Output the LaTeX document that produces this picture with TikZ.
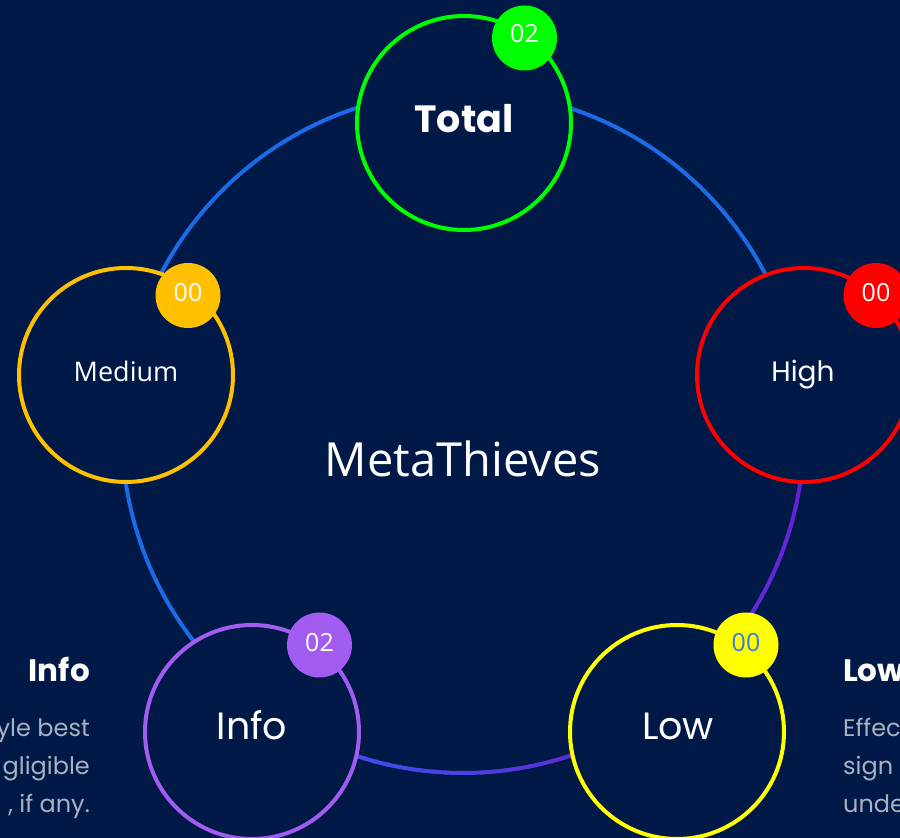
\documentclass[tikz,border=0pt]{standalone}
\usepackage{fontspec}
\setmainfont{Open Sans}
\newfontfamily\mont{Poppins}
\definecolor{bg}{HTML}{001946}
\definecolor{rblue}{HTML}{1C6AE8}
\definecolor{rblueb}{HTML}{3160F0}
\definecolor{rpurple}{HTML}{6A1BD0}
\definecolor{rpurpleb}{HTML}{5B30DA}
\definecolor{cgreen}{HTML}{00FF00}
\definecolor{corange}{HTML}{FFC000}
\definecolor{cred}{HTML}{FF0000}
\definecolor{cviolet}{HTML}{A35CF0}
\definecolor{cyellow}{HTML}{FFFF00}
\definecolor{cdigit}{HTML}{3B7DDD}
\definecolor{cgray}{HTML}{A9B1C2}
\tikzset{
  ringline/.style={line width=4pt},
  bignode/.style={circle, minimum size=214pt, line width=4pt, fill=bg, inner sep=0pt},
  badge/.style={circle, minimum size=65pt, inner sep=0pt},
  digit/.style={anchor=base, font=\fontsize{25}{28}\selectfont, text=white, inner sep=0pt},
  side/.style={font=\mont\fontsize{24}{28}\selectfont, text=cgray, inner sep=0pt},
  sidehead/.style={font=\mont\bfseries\fontsize{31}{34}\selectfont, text=white, inner sep=0pt}
}
\begin{document}
\begin{tikzpicture}[x=1pt,y=1pt]
\useasboundingbox (0,0) rectangle (900,838);
\clip (0,0) rectangle (900,838);
\fill[bg] (0,0) rectangle (900,838);
\coordinate (ctr) at (463,406);
% ring
\draw[ringline, rblue] (ctr) ++(8:341) arc[start angle=8, end angle=236, radius=341];
\foreach \i in {0,...,35} {
  \pgfmathsetmacro\a{235+2*\i}
  \pgfmathsetmacro\p{100*\i/35}
  \draw[ringline, color=rpurple!\p!rblueb] (ctr) ++(\a:341) arc[start angle=\a, delta angle=2.4, radius=341];
}
\foreach \i in {0,...,32} {
  \pgfmathsetmacro\a{305+2*\i}
  \pgfmathsetmacro\p{100*\i/32}
  \draw[ringline, color=rpurple!\p!rpurpleb] (ctr) ++(\a:341) arc[start angle=\a, delta angle=2.4, radius=341];
}
% big nodes
\node[bignode, draw=cgreen] (total) at (464,715) {};
\node[bignode, draw=corange] (medium) at (126,463) {};
\node[bignode, draw=cred] (high) at (804,463) {};
\node[bignode, draw=cviolet] (info) at (252,106) {};
\node[bignode, draw=cyellow] (low) at (677,106) {};
% labels
\node[anchor=base, inner sep=0pt, text=white, font=\mont\bfseries\fontsize{38}{40}\selectfont] (totalt) at (464,705) {Total};
\node[anchor=base, inner sep=0pt, text=white, font=\fontsize{27}{30}\selectfont] (mediumt) at (126,456) {Medium};
\node[anchor=base, inner sep=0pt, text=white, font=\mont\fontsize{28}{30}\selectfont] (hight) at (803,456) {High};
\node[anchor=base, inner sep=0pt, text=white, font=\mont\fontsize{38}{40}\selectfont] (infot) at (252,98) {Info};
\node[anchor=base, inner sep=0pt, text=white, font=\mont\fontsize{38}{40}\selectfont] (lowt) at (678,98) {Low};
% badges
\node[badge, fill=cgreen] (btotal) at (524.5,800) {};
\node[badge, fill=corange] (bmedium) at (188,542.5) {};
\node[badge, fill=cred] (bhigh) at (876,542.5) {};
\node[badge, fill=cviolet] (binfo) at (319.5,193) {};
\node[badge, fill=cyellow] (blow) at (746,193) {};
\node[digit] (dtotal) at (524.5,795) {02};
\node[digit] (dmedium) at (188,536) {00};
\node[digit] (dhigh) at (876,536) {00};
\node[digit] (dinfo) at (319.5,186) {02};
\node[digit, text=cdigit] (dlow) at (746,186) {00};
% center title
\node[anchor=base, inner sep=0pt, text=white, font=\fontsize{47}{50}\selectfont] (title) at (463,361) {MetaThieves};
% side texts
\node[sidehead, anchor=base east] (linfo) at (90,156) {Info};
\node[side, anchor=base east] (l1) at (90,101) {yle best};
\node[side, anchor=base east] (l2) at (90,63) {gligible};
\node[side, anchor=base east] (l3) at (90,25) {, if any.};
\node[sidehead, anchor=base west] (rlow) at (843,156) {Low};
\node[side, anchor=base west] (r1) at (843,101) {Effec};
\node[side, anchor=base west] (r2) at (843,63) {sign};
\node[side, anchor=base west] (r3) at (843,25) {unde};
\end{tikzpicture}
\end{document}
